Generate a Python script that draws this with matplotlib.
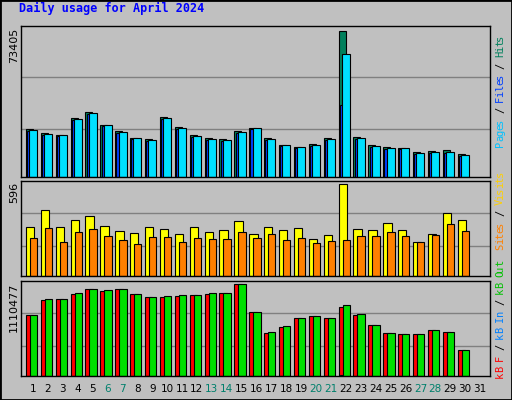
import matplotlib
matplotlib.use('Agg')
import matplotlib.pyplot as plt
from matplotlib.patches import Rectangle

# Данные по дням (апрель 2024)
days = list(range(1, 31))
hits = [24070, 22080, 21080, 29550, 32740, 26060, 23070, 19580, 19080, 30050,
        25060, 21080, 19580, 19080, 23070, 24570, 19580, 16090, 15100, 16590,
        19580, 73405, 20080, 16090, 15100, 14600, 12610, 13110, 13600, 11610]
files = [23570, 21580, 21080, 29050, 32040, 26060, 22570, 19580, 18590, 29550,
         24570, 20580, 19080, 18590, 22570, 24570, 19080, 16090, 15100, 16090,
         19080, 61440, 19580, 15600, 14600, 14600, 12110, 12610, 12610, 11110]
pages = [23070, 21080, 20580, 28550, 31540, 25560, 22070, 19080, 18090, 29050,
         24070, 20080, 18580, 18090, 22070, 24070, 18580, 15590, 14600, 15590,
         18580, 36030, 19080, 15100, 14100, 14100, 11610, 12110, 12110, 10610]
visits = [316, 427, 316, 362, 388, 323, 290, 277, 316, 303, 271, 316, 284, 297, 355,
          271, 316, 297, 310, 238, 264, 596, 303, 297, 342, 297, 219, 271, 407, 362]
sites = [245, 310, 219, 284, 303, 258, 232, 206, 251, 251, 219, 245, 238, 238, 284,
         245, 271, 232, 245, 212, 225, 232, 258, 258, 284, 258, 219, 264, 336, 290]
kb_out = [733600, 928100, 928100, 1001100, 1049700, 1037600, 1049700, 988900, 952500, 964600,
          976800, 976800, 1001100, 1001100, 1110477, 770100, 539000, 599800, 697100, 721400,
          697100, 855200, 745800, 612000, 526900, 514700, 514700, 551200, 539000, 320200]
kb_f = [733600, 916000, 928100, 988900, 1049700, 1025400, 1049700, 988900, 952500, 952500,
        964600, 976800, 988900, 1001100, 1110477, 770100, 526900, 587700, 697100, 721400,
        697100, 830900, 733600, 612000, 526900, 514700, 514700, 551200, 539000, 320200]
kb_in = [0] * 21 + [12000] + [0] * 8
weekend = [6, 7, 13, 14, 20, 21, 27, 28]

BG = '#C0C0C0'
W, H = 512, 400

fig = plt.figure(figsize=(5.12, 4.0), dpi=100, facecolor=BG)
fig.patches.append(Rectangle((0, 0), 1, 1, transform=fig.transFigure,
                             fill=False, edgecolor='black', linewidth=2))


def px_axes(x0, y0, x1, y1):
    # координаты в пикселях (сверху вниз)
    ax = fig.add_axes([x0 / W, 1 - y1 / H, (x1 - x0) / W, (y1 - y0) / H])
    ax.set_facecolor(BG)
    ax.set_xticks([])
    ax.set_yticks([])
    for s in ax.spines.values():
        s.set_color('black')
        s.set_linewidth(1)
    for g in (0.32, 0.66):
        ax.plot([0, 1], [g, g], color='#808080', linewidth=1,
                transform=ax.transAxes, zorder=0)
    ax.set_xlim(0.17, 31.67)
    return ax


def vtext(x, y_bottom, parts, step=5.6):
    # вертикальная подпись из цветных частей, снизу вверх
    y = y_bottom
    for txt, col in parts:
        for ch in txt:
            fig.text(x / W, 1 - y / H, ch, rotation=90, color=col, fontsize=7.5,
                     family='DejaVu Sans Mono', ha='center', va='bottom')
            y -= step


kw = dict(edgecolor='black', linewidth=0.8, align='edge')

# Hits / Files / Pages
ax1 = px_axes(21, 26, 490, 177)
ax1.bar([d - 0.5 for d in days], hits, width=0.47, color='#00805C', **kw)
ax1.bar([d - 0.42 for d in days], pages, width=0.47, color='#0040FF', **kw)
ax1.bar([d - 0.28 for d in days], files, width=0.54, color='#00E0FF', **kw)
ax1.set_ylim(0, 73405 / 0.97)

# Visits / Sites
ax2 = px_axes(21, 181, 490, 276)
ax2.bar([d - 0.5 for d in days], visits, width=0.56, color='#FFFF00', **kw)
ax2.bar([d - 0.23 for d in days], sites, width=0.49, color='#FF8000', **kw)
ax2.set_ylim(0, 596 / 0.965)

# kB
ax3 = px_axes(21, 281, 490, 376)
ax3.bar([d - 0.5 for d in days], kb_f, width=0.5, color='#FF0000', **kw)
ax3.bar([d - 0.42 for d in days], kb_in, width=0.3, color='#0080FF', **kw)
ax3.bar([d - 0.23 for d in days], kb_out, width=0.49, color='#00E000', **kw)
ax3.set_ylim(0, 1110477 / 0.965)

fig.text(19 / W, 1 - 15 / H, 'Daily usage for April 2024', color='#0000FF',
         fontsize=8.5, fontweight='bold', family='DejaVu Sans Mono', va='bottom')

for lab, y in (('73405', 28), ('596', 182), ('1110477', 283)):
    fig.text(14 / W, 1 - y / H, lab, rotation=90, fontsize=8, ha='center', va='top',
             family='DejaVu Sans')

vtext(500, 147, [('Pages', '#00C0FF'), (' / ', '#000000'), ('Files', '#0040FF'),
                 (' / ', '#000000'), ('Hits', '#00805C')])
vtext(500, 250, [('Sites', '#FF8000'), (' / ', '#000000'), ('Visits', '#FFD000')])
vtext(500, 378, [('kB F', '#FF0000'), (' / ', '#000000'), ('kB In', '#0080FF'),
                 (' / ', '#000000'), ('kB Out', '#00C000')])

for d in range(1, 32):
    col = '#00806C' if d in weekend else 'black'
    fig.text((33 + 14.9 * (d - 1)) / W, 1 - 389 / H, str(d), color=col, fontsize=7.5,
             ha='center', va='center', family='DejaVu Sans')

fig.savefig('out.png', dpi=100, facecolor=BG)
